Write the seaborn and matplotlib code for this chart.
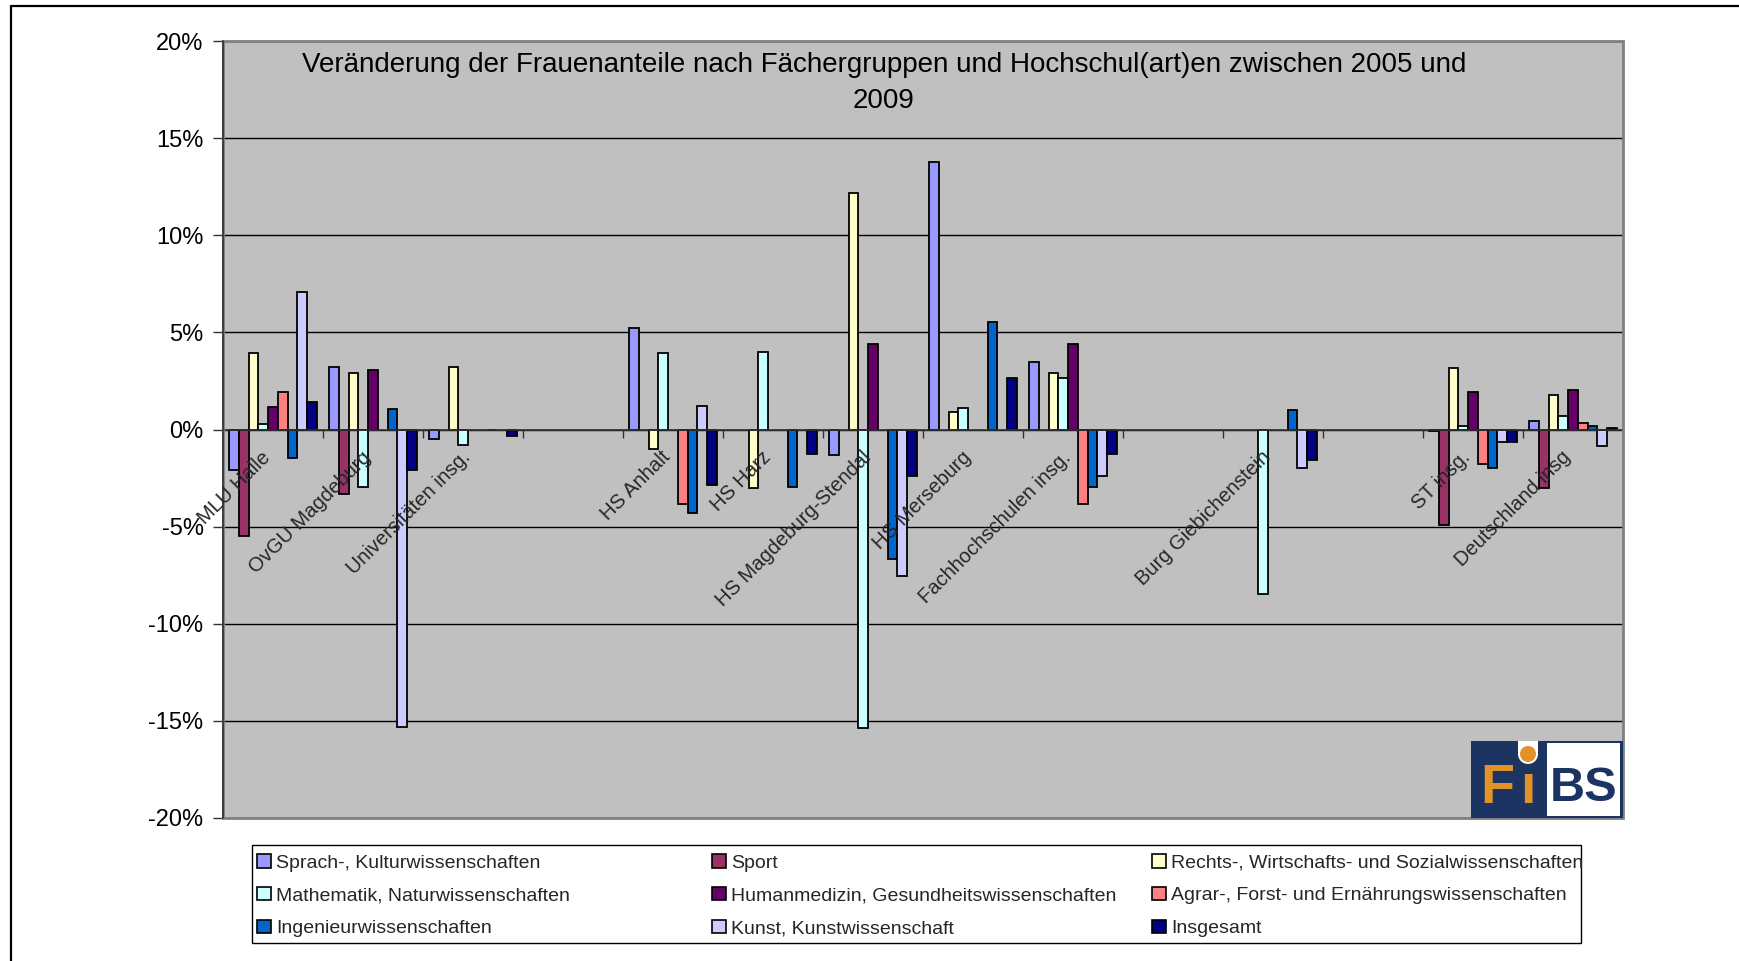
import numpy as np
import pandas as pd
import matplotlib
matplotlib.use("Agg")
import matplotlib.pyplot as plt
import matplotlib.transforms as mtrans
from matplotlib.patches import Rectangle, Circle
from matplotlib.lines import Line2D
from matplotlib.ticker import PercentFormatter, MultipleLocator
import seaborn as sns

# ---------------- data (percentage points) ----------------
categories = ["MLU Halle", "OvGU Magdeburg", "Universitäten insg.", "",
              "HS Anhalt", "HS Harz", "HS Magdeburg-Stendal", "HS Merseburg",
              "Fachhochschulen insg.", "", "Burg Giebichenstein", "",
              "ST insg.", "Deutschland insg"]

series = ["Sprach-, Kulturwissenschaften", "Sport",
          "Rechts-, Wirtschafts- und Sozialwissenschaften",
          "Mathematik, Naturwissenschaften",
          "Humanmedizin, Gesundheitswissenschaften",
          "Agrar-, Forst- und Ernährungswissenschaften",
          "Ingenieurwissenschaften", "Kunst, Kunstwissenschaft", "Insgesamt"]

nan = np.nan
sprach     = [-2.09, 3.24, -0.48, nan, 5.23, nan, -1.29, 13.75, 3.46, nan, nan, nan, -0.10, 0.46]
sport      = [-5.49, -3.34, nan, nan, nan, nan, nan, nan, nan, nan, nan, nan, -4.94, -3.02]
rechts     = [3.94, 2.90, 3.22, nan, -0.98, -3.00, 12.17, 0.89, 2.93, nan, nan, nan, 3.17, 1.77]
mathematik = [0.26, -2.95, -0.79, nan, 3.96, 3.97, -15.39, 1.10, 2.66, nan, -8.48, nan, 0.17, 0.69]
humanmed   = [1.15, 3.07, nan, nan, nan, nan, 4.39, nan, 4.39, nan, nan, nan, 1.94, 2.04]
agrar      = [1.94, nan, nan, nan, -3.86, nan, nan, nan, -3.86, nan, nan, nan, -1.80, 0.34]
ingenieur  = [-1.47, 1.06, 0.00, nan, -4.30, -2.95, -6.68, 5.54, -2.95, nan, 1.00, nan, -1.97, 0.17]
kunst      = [7.06, -15.29, nan, nan, 1.23, nan, -7.54, nan, -2.37, nan, -1.99, nan, -0.63, -0.86]
insgesamt  = [1.42, -2.06, -0.34, nan, -2.88, -1.25, -2.37, 2.64, -1.27, nan, -1.58, nan, -0.66, 0.07]

values = [sprach, sport, rechts, mathematik, humanmed, agrar, ingenieur, kunst, insgesamt]

colors = ["#9999FF", "#993366", "#FFFFCC", "#CCFFFF", "#660066",
          "#FF8080", "#0066CC", "#CCCCFF", "#000080"]

title = ("Veränderung der Frauenanteile nach Fächergruppen und Hochschul(art)en zwischen 2005 und\n"
         "2009")

# ---------------- figure ----------------
sns.set_theme(style="white")
plt.rcParams["font.family"] = ["Liberation Sans", "DejaVu Sans"]
plt.rcParams["axes.unicode_minus"] = False

W, H = 1739, 961
fig = plt.figure(figsize=(W / 100, H / 100), dpi=100)
fig.patch.set_facecolor("white")


def fx(x):
    return x / W


def fy(y):
    return 1 - y / H


AX_L, AX_R, AX_T, AX_B = 223, 1623, 41, 818
ax = fig.add_axes([fx(AX_L), fy(AX_B), (AX_R - AX_L) / W, (AX_B - AX_T) / H])
ax.set_facecolor("#C0C0C0")

keys = [c if c else " " * (i + 1) for i, c in enumerate(categories)]
rows = []
for s, vals in zip(series, values):
    for k, v in zip(keys, vals):
        rows.append((k, s, v))
df = pd.DataFrame(rows, columns=["cat", "series", "val"]).dropna()

sns.barplot(data=df, x="cat", y="val", hue="series", order=keys, hue_order=series,
            palette=colors, width=0.88, gap=0, saturation=1, errorbar=None,
            edgecolor="black", linewidth=1.3, legend=False, ax=ax, zorder=3)

ax.set_xlim(-0.5, len(categories) - 0.5)
ax.set_ylim(-20, 20)
ax.set_xlabel("")
ax.set_ylabel("")

# y axis (grid behind the bars)
ax.yaxis.set_major_locator(MultipleLocator(5))
ax.yaxis.set_major_formatter(PercentFormatter(100, decimals=0))
ax.tick_params(axis="y", direction="out", length=7, width=1, color="#333333",
               labelcolor="black", labelsize=17, pad=7, left=True)
ax.grid(axis="y", color="black", lw=1.0)
ax.grid(axis="x", visible=False)
ax.yaxis.set_zorder(0.5)

# x axis at 0, category labels drawn over the bars
ax.spines["bottom"].set_position(("data", 0))
ax.spines["bottom"].set_color("#333333")
ax.spines["bottom"].set_linewidth(1.2)
ax.spines["bottom"].set_zorder(4)
ax.spines["left"].set_color("#333333")
ax.spines["left"].set_linewidth(1.2)
ax.spines["top"].set_visible(False)
ax.spines["right"].set_visible(False)

ax.set_xticks(range(len(categories)))
ax.set_xticklabels(categories, rotation=45, ha="right", va="top",
                   rotation_mode="anchor", fontsize=14.5)
ax.set_xticks(np.arange(0.5, len(categories) - 0.5, 1), minor=True)
ax.tick_params(axis="x", which="major", length=0, pad=13, bottom=True)
ax.tick_params(axis="x", which="minor", length=6, width=1, color="#333333",
               direction="out", bottom=True)
ax.xaxis.set_zorder(6)
offset = mtrans.ScaledTranslation(-12 / 100, 0, fig.dpi_scale_trans)
for lab in ax.get_xticklabels():
    lab.set_transform(lab.get_transform() + offset)

# plot-area frame (grey)
ax.add_patch(Rectangle((0, 0), 1, 1, transform=ax.transAxes, fill=False,
                       edgecolor="#808080", lw=2, zorder=5, clip_on=False))
ax.plot([0, 0], [0, 1], transform=ax.transAxes, color="#333333", lw=1.2,
        zorder=6, clip_on=False)

# title inside the plot area
ax.text((884 - AX_L) / (AX_R - AX_L), (AX_B - 52) / (AX_B - AX_T), title,
        transform=ax.transAxes, ha="center", va="top", fontsize=20,
        linespacing=1.5, color="black", zorder=7)

# ---------------- legend (3 columns, row-major like the original) ----------------
fig.add_artist(Rectangle((fx(252), fy(943)), (1581 - 252) / W, (943 - 845) / H,
                         transform=fig.transFigure, facecolor="white",
                         edgecolor="black", lw=1, zorder=1))
handles = [Rectangle((0, 0), 1, 1, facecolor=c, edgecolor="black", lw=1.2) for c in colors]
col_x = [257, 712, 1152]
for j in range(3):
    idx = [j, j + 3, j + 6]
    leg = fig.legend([handles[i] for i in idx], [series[i] for i in idx],
                     loc="upper left", bbox_to_anchor=(fx(col_x[j]), fy(854)),
                     frameon=False, fontsize=14, handlelength=0.7, handleheight=0.7,
                     handletextpad=0.3, labelspacing=0.78, borderpad=0, borderaxespad=0)
    leg.set_zorder(2)

# ---------------- outer chart border ----------------
fig.add_artist(Line2D([fx(11), fx(11)], [fy(6), 0], transform=fig.transFigure,
                      color="black", lw=1.6))
fig.add_artist(Line2D([fx(11), 1], [fy(6), fy(6)], transform=fig.transFigure,
                      color="black", lw=1.6))

# ---------------- FiBS logo ----------------
navy = "#1B3461"
orange = "#E3922A"
fig.add_artist(Rectangle((fx(1471), fy(818)), (1623 - 1471) / W, (818 - 741) / H,
                         transform=fig.transFigure, facecolor=navy, edgecolor="none", zorder=8))
fig.add_artist(Rectangle((fx(1547), fy(816)), (1620 - 1547) / W, (816 - 743) / H,
                         transform=fig.transFigure, facecolor="white", edgecolor="none", zorder=9))
fig.add_artist(Rectangle((fx(1518), fy(755)), (1538 - 1518) / W, (755 - 741) / H,
                         transform=fig.transFigure, facecolor="white", edgecolor="none", zorder=9))
fig.add_artist(Circle((1528, H - 754), 10, transform=None, facecolor="white",
                      edgecolor="none", zorder=9))
fig.add_artist(Circle((1528, H - 754), 8, transform=None, facecolor=orange,
                      edgecolor="none", zorder=10))
logo_font = ["Liberation Sans Narrow", "Liberation Sans", "DejaVu Sans"]
fig.text(fx(1497), fy(803), "F", ha="center", va="baseline", fontsize=40,
         fontweight="bold", color=orange, family=logo_font, zorder=10)
fig.text(fx(1528), fy(803), "ı", ha="center", va="baseline", fontsize=40,
         fontweight="bold", color=orange, family=logo_font, zorder=10)
fig.text(fx(1584), fy(801), "BS", ha="center", va="baseline", fontsize=35,
         fontweight="bold", color=navy, family=logo_font, zorder=10)

fig.savefig("out.png", dpi=100, facecolor="white")
